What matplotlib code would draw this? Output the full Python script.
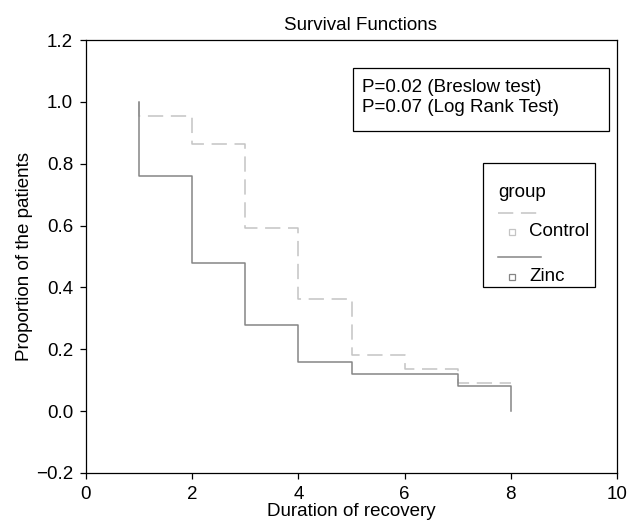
import matplotlib
matplotlib.use("Agg")
import matplotlib.pyplot as plt
from matplotlib.patches import Rectangle
from matplotlib.lines import Line2D

plt.rcParams['font.family'] = ['Liberation Sans', 'DejaVu Sans']
plt.rcParams['font.size'] = 13.5

# survival estimates
zinc_times = [1, 2, 3, 4, 5, 7, 8]
zinc_surv = [0.76, 0.48, 0.28, 0.16, 0.12, 0.08, 0.0]
control_times = [1, 2, 3, 4, 5, 6, 7, 8]
control_surv = [0.955, 0.864, 0.591, 0.364, 0.182, 0.136, 0.091, 0.091]
start_time = 1
start_surv = 1.0

x_ticks = [0, 2, 4, 6, 8, 10]
y_ticks = [-0.2, 0.0, 0.2, 0.4, 0.6, 0.8, 1.0, 1.2]
stats_lines = ["P=0.02 (Breslow test)", "P=0.07 (Log Rank Test)"]
groups = ["Control", "Zinc"]

zinc_col = "#858585"
ctrl_col = "#c4c4c4"

fig = plt.figure(figsize=(6.29, 5.27), dpi=100)
ax = fig.add_axes([0.1367, 0.1025, 0.8443, 0.8215])

ax.step([start_time] + control_times, [start_surv] + control_surv, where='post',
        color=ctrl_col, lw=1.1, dashes=(10, 5))
ax.step([start_time] + zinc_times, [start_surv] + zinc_surv, where='post',
        color=zinc_col, lw=1.1)

ax.set_xlim(0, 10)
ax.set_ylim(-0.2, 1.2)
ax.set_xticks(x_ticks)
ax.set_yticks(y_ticks)
ax.set_xticklabels([str(t) for t in x_ticks])
ax.set_yticklabels(["\u22120.2" if t < 0 else f"{t:.1f}" for t in y_ticks])
ax.tick_params(direction='out', length=4.3, width=0.9, pad=5)
for s in ax.spines.values():
    s.set_linewidth(0.9)

ax.text(0.516, 1.023, "Survival Functions", transform=ax.transAxes,
        ha='center', va='baseline')
ax.set_xlabel("Duration of recovery", va='center')
ax.xaxis.set_label_coords(0.5, -0.090)
ax.set_ylabel("Proportion of the patients", va='center')
ax.yaxis.set_label_coords(-0.115, 0.5)

# p-value box
ax.add_patch(Rectangle((0.503, 0.790), 0.482, 0.145, transform=ax.transAxes,
                       fill=False, ec='black', lw=0.9))
ax.text(0.520, 0.891, stats_lines[0], transform=ax.transAxes, va='center', ha='left')
ax.text(0.520, 0.845, stats_lines[1], transform=ax.transAxes, va='center', ha='left')

# legend drawn by hand to mimic the original layout
ax.add_patch(Rectangle((0.748, 0.430), 0.210, 0.286, transform=ax.transAxes,
                       fill=False, ec='black', lw=0.9))
ax.text(0.776, 0.649, "group", transform=ax.transAxes, va='center', ha='left')
ax.add_line(Line2D([0.776, 0.856], [0.600, 0.600], transform=ax.transAxes,
                   color=ctrl_col, lw=1.1, dashes=(10, 5)))
ax.add_line(Line2D([0.802], [0.557], transform=ax.transAxes, marker='s', ms=4,
                   mfc='none', mec=ctrl_col, mew=0.9, ls='none'))
ax.text(0.834, 0.557, groups[0], transform=ax.transAxes, va='center', ha='left')
ax.add_line(Line2D([0.776, 0.856], [0.499, 0.499], transform=ax.transAxes,
                   color=zinc_col, lw=1.1))
ax.add_line(Line2D([0.802], [0.453], transform=ax.transAxes, marker='s', ms=4,
                   mfc='none', mec=zinc_col, mew=0.9, ls='none'))
ax.text(0.834, 0.453, groups[1], transform=ax.transAxes, va='center', ha='left')

fig.savefig("out.png", dpi=100)
